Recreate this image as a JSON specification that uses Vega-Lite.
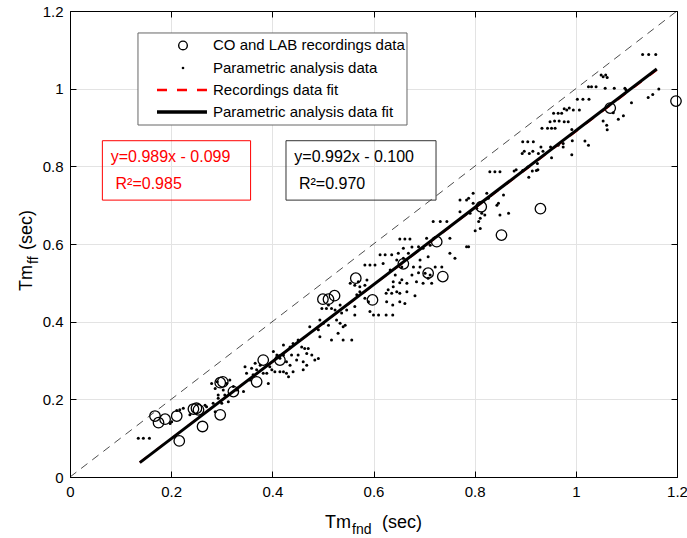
{
  "$schema": "https://vega.github.io/schema/vega-lite/v6.json",
  "width": 607,
  "height": 466,
  "autosize": {"type": "none"},
  "padding": {"left": 70, "top": 11, "right": 10, "bottom": 61},
  "background": "white",
  "config": {
    "view": {"stroke": "black", "strokeWidth": 1},
    "font": "Liberation Sans",
    "text": {"font": "Liberation Sans"}
  },
  "datasets": {
    "dots": [
      {"x":0.135,"y":0.100},{"x":0.145,"y":0.100},{"x":0.157,"y":0.100},
      {"x":0.198,"y":0.138},{"x":0.201,"y":0.142},
      {"x":0.211,"y":0.171},{"x":0.217,"y":0.173},{"x":0.224,"y":0.177},{"x":0.237,"y":0.160},
      {"x":0.267,"y":0.185},{"x":0.270,"y":0.181},{"x":0.283,"y":0.190},{"x":0.287,"y":0.168},{"x":0.293,"y":0.203},{"x":0.300,"y":0.190},
      {"x":0.280,"y":0.241},{"x":0.287,"y":0.228},{"x":0.291,"y":0.245},{"x":0.303,"y":0.224},{"x":0.310,"y":0.241},{"x":0.316,"y":0.250},{"x":0.293,"y":0.211},{"x":0.306,"y":0.211},{"x":0.313,"y":0.194},{"x":0.323,"y":0.233},{"x":0.330,"y":0.224},{"x":0.343,"y":0.220},{"x":0.356,"y":0.250},{"x":0.392,"y":0.241},
      {"x":0.349,"y":0.267},{"x":0.359,"y":0.280},{"x":0.366,"y":0.293},{"x":0.369,"y":0.276},{"x":0.376,"y":0.288},{"x":0.362,"y":0.263},{"x":0.346,"y":0.284},{"x":0.395,"y":0.284},{"x":0.399,"y":0.276},{"x":0.389,"y":0.267},{"x":0.382,"y":0.267},
      {"x":0.402,"y":0.323},{"x":0.409,"y":0.314},{"x":0.415,"y":0.306},{"x":0.422,"y":0.314},{"x":0.428,"y":0.297},{"x":0.435,"y":0.288},
      {"x":0.405,"y":0.271},{"x":0.415,"y":0.271},{"x":0.422,"y":0.271},{"x":0.428,"y":0.267},{"x":0.441,"y":0.271},{"x":0.432,"y":0.258},
      {"x":0.422,"y":0.340},{"x":0.435,"y":0.335},{"x":0.441,"y":0.344},{"x":0.451,"y":0.353},{"x":0.458,"y":0.335},{"x":0.464,"y":0.331},{"x":0.471,"y":0.331},{"x":0.468,"y":0.318},{"x":0.478,"y":0.314},{"x":0.484,"y":0.301},{"x":0.491,"y":0.305},{"x":0.461,"y":0.297},{"x":0.468,"y":0.288},{"x":0.461,"y":0.276},{"x":0.451,"y":0.314},{"x":0.448,"y":0.301},{"x":0.438,"y":0.314},
      {"x":0.494,"y":0.361},{"x":0.517,"y":0.353},{"x":0.530,"y":0.370},{"x":0.540,"y":0.353},{"x":0.557,"y":0.353},
      {"x":0.474,"y":0.387},{"x":0.491,"y":0.379},
      {"x":0.494,"y":0.404},{"x":0.501,"y":0.396},{"x":0.511,"y":0.391},{"x":0.527,"y":0.404},{"x":0.534,"y":0.396},{"x":0.540,"y":0.387},{"x":0.544,"y":0.391},
      {"x":0.498,"y":0.434},{"x":0.507,"y":0.434},{"x":0.517,"y":0.434},{"x":0.524,"y":0.430},{"x":0.511,"y":0.443},{"x":0.534,"y":0.443},{"x":0.537,"y":0.422},{"x":0.547,"y":0.430},{"x":0.563,"y":0.439},{"x":0.563,"y":0.417},
      {"x":0.554,"y":0.499},{"x":0.563,"y":0.494},{"x":0.570,"y":0.503},{"x":0.573,"y":0.490},{"x":0.583,"y":0.494},{"x":0.587,"y":0.507},{"x":0.573,"y":0.477},
      {"x":0.567,"y":0.469},{"x":0.583,"y":0.460},{"x":0.590,"y":0.451},{"x":0.593,"y":0.426},{"x":0.600,"y":0.417},{"x":0.610,"y":0.417},
      {"x":0.583,"y":0.546},{"x":0.593,"y":0.546},{"x":0.603,"y":0.546},
      {"x":0.619,"y":0.550},{"x":0.633,"y":0.533},{"x":0.646,"y":0.559},{"x":0.656,"y":0.541},{"x":0.679,"y":0.541},{"x":0.692,"y":0.541},{"x":0.702,"y":0.525},{"x":0.712,"y":0.520},{"x":0.722,"y":0.541},{"x":0.735,"y":0.541},{"x":0.676,"y":0.520},{"x":0.656,"y":0.508},{"x":0.643,"y":0.520},
      {"x":0.639,"y":0.503},{"x":0.652,"y":0.500},{"x":0.666,"y":0.499},{"x":0.685,"y":0.503},{"x":0.698,"y":0.499},{"x":0.715,"y":0.499},
      {"x":0.613,"y":0.572},{"x":0.623,"y":0.572},{"x":0.636,"y":0.572},{"x":0.649,"y":0.576},{"x":0.659,"y":0.563},{"x":0.669,"y":0.576},
      {"x":0.692,"y":0.559},{"x":0.708,"y":0.567},{"x":0.751,"y":0.576},{"x":0.761,"y":0.563},{"x":0.784,"y":0.593},
      {"x":0.659,"y":0.589},{"x":0.676,"y":0.592},{"x":0.689,"y":0.593},{"x":0.698,"y":0.589},{"x":0.751,"y":0.615},{"x":0.705,"y":0.615},{"x":0.712,"y":0.597},
      {"x":0.652,"y":0.613},{"x":0.662,"y":0.613},{"x":0.672,"y":0.613},
      {"x":0.718,"y":0.658},{"x":0.732,"y":0.658},{"x":0.745,"y":0.658},
      {"x":0.625,"y":0.417},{"x":0.638,"y":0.417},{"x":0.626,"y":0.451},{"x":0.638,"y":0.443},{"x":0.652,"y":0.451},{"x":0.662,"y":0.447},{"x":0.682,"y":0.467},{"x":0.625,"y":0.473},{"x":0.636,"y":0.473},{"x":0.646,"y":0.477},{"x":0.652,"y":0.473},{"x":0.666,"y":0.477},{"x":0.629,"y":0.482},{"x":0.639,"y":0.490},{"x":0.689,"y":0.526},{"x":0.708,"y":0.512},
      {"x":0.830,"y":0.786},{"x":0.840,"y":0.786},{"x":0.850,"y":0.786},
      {"x":0.797,"y":0.731},{"x":0.788,"y":0.718},{"x":0.771,"y":0.713},{"x":0.784,"y":0.713},
      {"x":0.824,"y":0.731},{"x":0.827,"y":0.718},{"x":0.847,"y":0.705},{"x":0.844,"y":0.700},{"x":0.857,"y":0.726},{"x":0.850,"y":0.675},
      {"x":0.797,"y":0.705},{"x":0.804,"y":0.692},{"x":0.771,"y":0.683},{"x":0.791,"y":0.679},{"x":0.814,"y":0.679},{"x":0.820,"y":0.675},{"x":0.811,"y":0.666},{"x":0.808,"y":0.658},
      {"x":0.867,"y":0.679},{"x":0.811,"y":0.640},{"x":0.801,"y":0.634},{"x":0.788,"y":0.593},
      {"x":0.895,"y":0.863},{"x":0.905,"y":0.863},{"x":0.916,"y":0.863},
      {"x":0.894,"y":0.833},{"x":0.898,"y":0.839},{"x":0.908,"y":0.833},{"x":0.915,"y":0.839},{"x":0.926,"y":0.833},{"x":0.931,"y":0.850},{"x":0.935,"y":0.839},{"x":0.950,"y":0.850},{"x":0.952,"y":0.822},{"x":0.965,"y":0.854},{"x":0.975,"y":0.850},{"x":0.975,"y":0.859},{"x":0.993,"y":0.866},{"x":0.992,"y":0.830},{"x":1.018,"y":0.865},{"x":1.025,"y":0.854},
      {"x":0.878,"y":0.788},{"x":0.882,"y":0.791},{"x":0.895,"y":0.789},{"x":0.905,"y":0.798},{"x":0.914,"y":0.788},{"x":0.922,"y":0.789},{"x":0.925,"y":0.791},{"x":0.907,"y":0.772},{"x":0.924,"y":0.807},
      {"x":1.050,"y":1.035},{"x":1.054,"y":1.031},{"x":1.059,"y":1.035},{"x":1.062,"y":1.029},
      {"x":1.025,"y":1.005},{"x":1.031,"y":1.005},{"x":1.040,"y":1.005},{"x":1.058,"y":1.001},{"x":1.076,"y":1.001},{"x":1.097,"y":1.001},
      {"x":1.003,"y":0.973},{"x":1.014,"y":0.973},{"x":1.026,"y":0.973},
      {"x":0.977,"y":0.948},{"x":0.982,"y":0.945},{"x":0.987,"y":0.950},{"x":0.995,"y":0.945},{"x":1.007,"y":0.945},
      {"x":0.956,"y":0.937},{"x":0.965,"y":0.937},{"x":0.972,"y":0.937},{"x":0.985,"y":0.915},{"x":0.992,"y":0.895},
      {"x":0.949,"y":0.915},{"x":0.958,"y":0.917},{"x":0.967,"y":0.917},{"x":0.977,"y":0.915},{"x":0.952,"y":0.898},{"x":0.959,"y":0.898},
      {"x":0.933,"y":0.898},{"x":0.944,"y":0.898},
      {"x":1.074,"y":0.938},{"x":1.084,"y":0.921},{"x":1.094,"y":0.930},{"x":1.054,"y":0.917},{"x":1.061,"y":0.906},{"x":1.062,"y":0.894},
      {"x":1.132,"y":1.088},{"x":1.144,"y":1.088},{"x":1.158,"y":1.088},{"x":1.099,"y":0.997},{"x":1.164,"y":0.999},{"x":1.152,"y":0.985},{"x":1.143,"y":0.977},{"x":1.110,"y":0.964}
    ],
    "circles": [
      {"x":0.168,"y":0.157},{"x":0.175,"y":0.140},{"x":0.188,"y":0.149},{"x":0.211,"y":0.157},{"x":0.216,"y":0.093},{"x":0.244,"y":0.175},{"x":0.250,"y":0.177},{"x":0.254,"y":0.173},{"x":0.262,"y":0.130},{"x":0.297,"y":0.160},{"x":0.297,"y":0.243},{"x":0.302,"y":0.245},{"x":0.323,"y":0.220},{"x":0.369,"y":0.245},{"x":0.382,"y":0.301},{"x":0.415,"y":0.301},{"x":0.500,"y":0.458},{"x":0.511,"y":0.458},{"x":0.523,"y":0.467},{"x":0.565,"y":0.512},{"x":0.598,"y":0.456},{"x":0.659,"y":0.549},{"x":0.708,"y":0.525},{"x":0.725,"y":0.606},{"x":0.737,"y":0.516},{"x":0.813,"y":0.696},{"x":0.853,"y":0.623},{"x":0.930,"y":0.691},{"x":1.068,"y":0.950},{"x":1.198,"y":0.968}
    ],
    "fitrec": [{"x":0.138,"y":0.0375},{"x":1.16,"y":1.0482}],
    "fitpar": [{"x":0.138,"y":0.0369},{"x":1.16,"y":1.0507}],
    "diag": [{"x":0,"y":0},{"x":1.2,"y":1.2}],
    "one": [{}]
  },
  "resolve": {"axis": {"x": "independent", "y": "independent"}},
  "layer": [
    {
      "data": {"name": "dots"},
      "mark": {"type": "circle", "size": 9, "opacity": 1, "color": "black"},
      "encoding": {
        "x": {"field": "x", "type": "quantitative", "scale": {"domain": [0, 1.2], "nice": false, "zero": false},
          "axis": {"orient": "bottom", "values": [0, 0.2, 0.4, 0.6, 0.8, 1, 1.2], "format": "~g", "title": null, "grid": true, "gridColor": "#e3e3e3", "tickSize": -6, "tickColor": "black", "domainColor": "black", "labelPadding": 13, "labelFontSize": 15, "labelFont": "Liberation Sans", "labelColor": "black", "labelFlush": false, "labelOverlap": false}},
        "y": {"field": "y", "type": "quantitative", "scale": {"domain": [0, 1.2], "nice": false, "zero": false},
          "axis": {"orient": "left", "values": [0, 0.2, 0.4, 0.6, 0.8, 1, 1.2], "format": "~g", "title": null, "grid": true, "gridColor": "#e3e3e3", "tickSize": -6, "tickColor": "black", "domainColor": "black", "labelPadding": 13, "labelFontSize": 15, "labelFont": "Liberation Sans", "labelColor": "black", "labelFlush": false, "labelOverlap": false}}
      }
    },
    {
      "data": {"name": "diag"},
      "mark": {"type": "line", "color": "black", "strokeWidth": 0.7, "strokeDash": [8, 6]},
      "encoding": {
        "x": {"field": "x", "type": "quantitative", "scale": {"domain": [0, 1.2], "nice": false, "zero": false},
          "axis": {"orient": "top", "values": [0, 0.2, 0.4, 0.6, 0.8, 1, 1.2], "labels": false, "title": null, "grid": false, "tickSize": -6, "tickColor": "black", "domainColor": "black"}},
        "y": {"field": "y", "type": "quantitative", "scale": {"domain": [0, 1.2], "nice": false, "zero": false},
          "axis": {"orient": "right", "values": [0, 0.2, 0.4, 0.6, 0.8, 1, 1.2], "labels": false, "title": null, "grid": false, "tickSize": -6, "tickColor": "black", "domainColor": "black"}}
      }
    },
    {
      "data": {"name": "circles"},
      "mark": {"type": "point", "filled": false, "size": 110, "strokeWidth": 1.3, "opacity": 1, "color": "black"},
      "encoding": {
        "x": {"field": "x", "type": "quantitative", "scale": {"domain": [0, 1.2], "nice": false, "zero": false}, "axis": null},
        "y": {"field": "y", "type": "quantitative", "scale": {"domain": [0, 1.2], "nice": false, "zero": false}, "axis": null}
      }
    },
    {
      "data": {"name": "fitrec"},
      "mark": {"type": "line", "strokeWidth": 2, "strokeDash": [10, 10], "color": "#ff0000"},
      "encoding": {
        "x": {"field": "x", "type": "quantitative", "scale": {"domain": [0, 1.2], "nice": false, "zero": false}, "axis": null},
        "y": {"field": "y", "type": "quantitative", "scale": {"domain": [0, 1.2], "nice": false, "zero": false}, "axis": null}
      }
    },
    {
      "data": {"name": "fitpar"},
      "mark": {"type": "line", "strokeWidth": 3, "color": "black"},
      "encoding": {
        "x": {"field": "x", "type": "quantitative", "scale": {"domain": [0, 1.2], "nice": false, "zero": false}, "axis": null},
        "y": {"field": "y", "type": "quantitative", "scale": {"domain": [0, 1.2], "nice": false, "zero": false}, "axis": null}
      }
    },
    {
      "data": {"name": "one"},
      "mark": {"type": "rect", "fill": "white", "stroke": "#666666", "strokeWidth": 1},
      "encoding": {
        "x": {"datum": 0.1344, "type": "quantitative", "scale": {"domain": [0, 1.2], "nice": false, "zero": false}, "axis": null},
        "x2": {"datum": 0.6662},
        "y": {"datum": 1.1434, "type": "quantitative", "scale": {"domain": [0, 1.2], "nice": false, "zero": false}, "axis": null},
        "y2": {"datum": 0.9064}
      }
    },
    {
      "data": {"name": "one"},
      "mark": {"type": "point", "filled": false, "size": 75, "strokeWidth": 1.4, "opacity": 1, "color": "black"},
      "encoding": {
        "x": {"datum": 0.2234, "type": "quantitative", "scale": {"domain": [0, 1.2], "nice": false, "zero": false}, "axis": null},
        "y": {"datum": 1.1112, "type": "quantitative", "scale": {"domain": [0, 1.2], "nice": false, "zero": false}, "axis": null}
      }
    },
    {
      "data": {"name": "one"},
      "mark": {"type": "circle", "size": 7, "opacity": 1, "color": "black"},
      "encoding": {
        "x": {"datum": 0.2234, "type": "quantitative", "scale": {"domain": [0, 1.2], "nice": false, "zero": false}, "axis": null},
        "y": {"datum": 1.0532, "type": "quantitative", "scale": {"domain": [0, 1.2], "nice": false, "zero": false}, "axis": null}
      }
    },
    {
      "data": {"name": "one"},
      "mark": {"type": "rule", "color": "#ff0000", "strokeWidth": 2.5, "strokeDash": [10, 10]},
      "encoding": {
        "x": {"datum": 0.172, "type": "quantitative", "scale": {"domain": [0, 1.2], "nice": false, "zero": false}, "axis": null},
        "x2": {"datum": 0.2708},
        "y": {"datum": 0.9966, "type": "quantitative", "scale": {"domain": [0, 1.2], "nice": false, "zero": false}, "axis": null}
      }
    },
    {
      "data": {"name": "one"},
      "mark": {"type": "rule", "color": "black", "strokeWidth": 3.5},
      "encoding": {
        "x": {"datum": 0.172, "type": "quantitative", "scale": {"domain": [0, 1.2], "nice": false, "zero": false}, "axis": null},
        "x2": {"datum": 0.2708},
        "y": {"datum": 0.9399, "type": "quantitative", "scale": {"domain": [0, 1.2], "nice": false, "zero": false}, "axis": null}
      }
    },
    {
      "data": {"name": "one"},
      "mark": {"type": "text", "text": "CO and LAB recordings data", "fontSize": 15, "color": "black", "align": "left", "baseline": "middle"},
      "encoding": {
        "x": {"datum": 0.2827, "type": "quantitative", "scale": {"domain": [0, 1.2], "nice": false, "zero": false}, "axis": null},
        "y": {"datum": 1.1112, "type": "quantitative", "scale": {"domain": [0, 1.2], "nice": false, "zero": false}, "axis": null}
      }
    },
    {
      "data": {"name": "one"},
      "mark": {"type": "text", "text": "Parametric analysis data", "fontSize": 15, "color": "black", "align": "left", "baseline": "middle"},
      "encoding": {
        "x": {"datum": 0.2827, "type": "quantitative", "scale": {"domain": [0, 1.2], "nice": false, "zero": false}, "axis": null},
        "y": {"datum": 1.0532, "type": "quantitative", "scale": {"domain": [0, 1.2], "nice": false, "zero": false}, "axis": null}
      }
    },
    {
      "data": {"name": "one"},
      "mark": {"type": "text", "text": "Recordings data fit", "fontSize": 15, "color": "black", "align": "left", "baseline": "middle"},
      "encoding": {
        "x": {"datum": 0.2827, "type": "quantitative", "scale": {"domain": [0, 1.2], "nice": false, "zero": false}, "axis": null},
        "y": {"datum": 0.9966, "type": "quantitative", "scale": {"domain": [0, 1.2], "nice": false, "zero": false}, "axis": null}
      }
    },
    {
      "data": {"name": "one"},
      "mark": {"type": "text", "text": "Parametric analysis data fit", "fontSize": 15, "color": "black", "align": "left", "baseline": "middle"},
      "encoding": {
        "x": {"datum": 0.2827, "type": "quantitative", "scale": {"domain": [0, 1.2], "nice": false, "zero": false}, "axis": null},
        "y": {"datum": 0.9399, "type": "quantitative", "scale": {"domain": [0, 1.2], "nice": false, "zero": false}, "axis": null}
      }
    },
    {
      "data": {"name": "one"},
      "mark": {"type": "rect", "fill": "transparent", "stroke": "#ff0000", "strokeWidth": 1},
      "encoding": {
        "x": {"datum": 0.064, "type": "quantitative", "scale": {"domain": [0, 1.2], "nice": false, "zero": false}, "axis": null},
        "x2": {"datum": 0.357},
        "y": {"datum": 0.866, "type": "quantitative", "scale": {"domain": [0, 1.2], "nice": false, "zero": false}, "axis": null},
        "y2": {"datum": 0.713}
      }
    },
    {
      "data": {"name": "one"},
      "mark": {"type": "rect", "fill": "transparent", "stroke": "#333333", "strokeWidth": 1},
      "encoding": {
        "x": {"datum": 0.427, "type": "quantitative", "scale": {"domain": [0, 1.2], "nice": false, "zero": false}, "axis": null},
        "x2": {"datum": 0.7236},
        "y": {"datum": 0.866, "type": "quantitative", "scale": {"domain": [0, 1.2], "nice": false, "zero": false}, "axis": null},
        "y2": {"datum": 0.713}
      }
    },
    {
      "data": {"name": "one"},
      "mark": {"type": "text", "text": "y=0.989x - 0.099", "fontSize": 16, "color": "#ff0000", "align": "left", "baseline": "alphabetic"},
      "encoding": {
        "x": {"datum": 0.0805, "type": "quantitative", "scale": {"domain": [0, 1.2], "nice": false, "zero": false}, "axis": null},
        "y": {"datum": 0.810, "type": "quantitative", "scale": {"domain": [0, 1.2], "nice": false, "zero": false}, "axis": null}
      }
    },
    {
      "data": {"name": "one"},
      "mark": {"type": "text", "text": "R²=0.985", "fontSize": 16, "color": "#ff0000", "align": "left", "baseline": "alphabetic"},
      "encoding": {
        "x": {"datum": 0.090, "type": "quantitative", "scale": {"domain": [0, 1.2], "nice": false, "zero": false}, "axis": null},
        "y": {"datum": 0.741, "type": "quantitative", "scale": {"domain": [0, 1.2], "nice": false, "zero": false}, "axis": null}
      }
    },
    {
      "data": {"name": "one"},
      "mark": {"type": "text", "text": "y=0.992x - 0.100", "fontSize": 16, "color": "black", "align": "left", "baseline": "alphabetic"},
      "encoding": {
        "x": {"datum": 0.4435, "type": "quantitative", "scale": {"domain": [0, 1.2], "nice": false, "zero": false}, "axis": null},
        "y": {"datum": 0.810, "type": "quantitative", "scale": {"domain": [0, 1.2], "nice": false, "zero": false}, "axis": null}
      }
    },
    {
      "data": {"name": "one"},
      "mark": {"type": "text", "text": "R²=0.970", "fontSize": 16, "color": "black", "align": "left", "baseline": "alphabetic"},
      "encoding": {
        "x": {"datum": 0.4527, "type": "quantitative", "scale": {"domain": [0, 1.2], "nice": false, "zero": false}, "axis": null},
        "y": {"datum": 0.741, "type": "quantitative", "scale": {"domain": [0, 1.2], "nice": false, "zero": false}, "axis": null}
      }
    },
    {
      "data": {"name": "one"},
      "mark": {"type": "text", "text": "Tm", "fontSize": 18, "color": "black", "align": "right", "baseline": "alphabetic"},
      "encoding": {
        "x": {"datum": 0.5556, "type": "quantitative", "scale": {"domain": [0, 1.2], "nice": false, "zero": false}, "axis": null},
        "y": {"datum": -0.131, "type": "quantitative", "scale": {"domain": [0, 1.2], "nice": false, "zero": false}, "axis": null}
      }
    },
    {
      "data": {"name": "one"},
      "mark": {"type": "text", "text": "fnd", "fontSize": 14, "color": "black", "align": "left", "baseline": "alphabetic", "dx": 1, "dy": 6},
      "encoding": {
        "x": {"datum": 0.5556, "type": "quantitative", "scale": {"domain": [0, 1.2], "nice": false, "zero": false}, "axis": null},
        "y": {"datum": -0.131, "type": "quantitative", "scale": {"domain": [0, 1.2], "nice": false, "zero": false}, "axis": null}
      }
    },
    {
      "data": {"name": "one"},
      "mark": {"type": "text", "text": "(sec)", "fontSize": 18, "color": "black", "align": "left", "baseline": "alphabetic", "dx": 31},
      "encoding": {
        "x": {"datum": 0.5556, "type": "quantitative", "scale": {"domain": [0, 1.2], "nice": false, "zero": false}, "axis": null},
        "y": {"datum": -0.131, "type": "quantitative", "scale": {"domain": [0, 1.2], "nice": false, "zero": false}, "axis": null}
      }
    },
    {
      "data": {"name": "one"},
      "mark": {"type": "text", "text": "Tm", "fontSize": 18, "color": "black", "align": "left", "baseline": "alphabetic", "angle": 270},
      "encoding": {
        "x": {"datum": -0.0751, "type": "quantitative", "scale": {"domain": [0, 1.2], "nice": false, "zero": false}, "axis": null},
        "y": {"datum": 0.479, "type": "quantitative", "scale": {"domain": [0, 1.2], "nice": false, "zero": false}, "axis": null}
      }
    },
    {
      "data": {"name": "one"},
      "mark": {"type": "text", "text": "ff", "fontSize": 14, "color": "black", "align": "left", "baseline": "alphabetic", "angle": 270, "dx": 27, "dy": 6},
      "encoding": {
        "x": {"datum": -0.0751, "type": "quantitative", "scale": {"domain": [0, 1.2], "nice": false, "zero": false}, "axis": null},
        "y": {"datum": 0.479, "type": "quantitative", "scale": {"domain": [0, 1.2], "nice": false, "zero": false}, "axis": null}
      }
    },
    {
      "data": {"name": "one"},
      "mark": {"type": "text", "text": "(sec)", "fontSize": 18, "color": "black", "align": "left", "baseline": "alphabetic", "angle": 270, "dx": 41},
      "encoding": {
        "x": {"datum": -0.0751, "type": "quantitative", "scale": {"domain": [0, 1.2], "nice": false, "zero": false}, "axis": null},
        "y": {"datum": 0.479, "type": "quantitative", "scale": {"domain": [0, 1.2], "nice": false, "zero": false}, "axis": null}
      }
    }
  ]
}
